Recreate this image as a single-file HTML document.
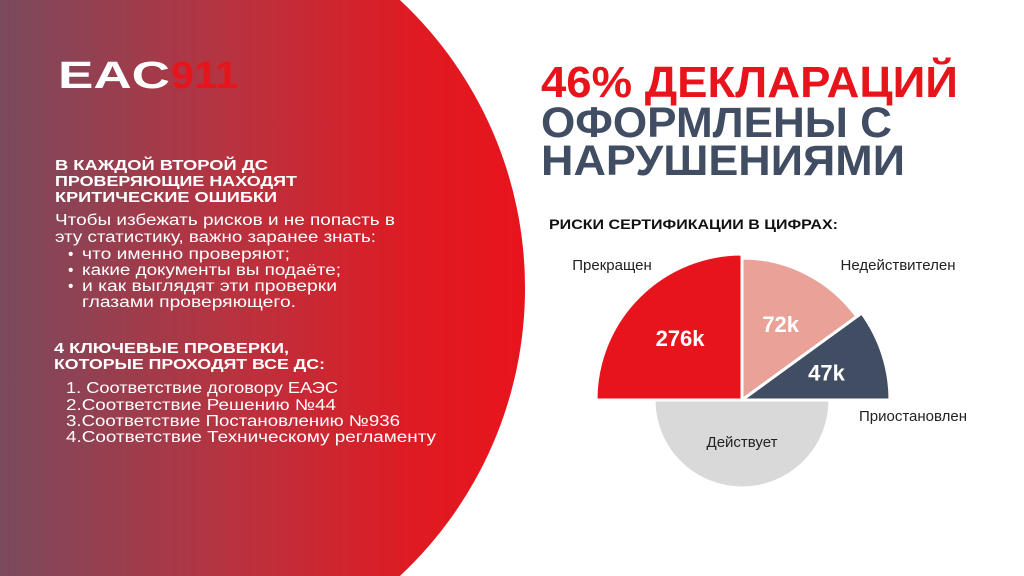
<!DOCTYPE html>
<html><head><meta charset="utf-8"><style>
html,body{margin:0;padding:0;background:#fff;width:1024px;height:576px;overflow:hidden;}
svg{display:block;font-family:"Liberation Sans","DejaVu Sans",sans-serif;overflow:hidden;}
</style></head><body>
<svg id="page" width="1024" height="576" viewBox="0 0 1024 576" xmlns="http://www.w3.org/2000/svg">
<defs>
<linearGradient id="lg" x1="0" y1="0" x2="525" y2="0" gradientUnits="userSpaceOnUse">
<stop offset="0" stop-color="#7a4a5d"/>
<stop offset="0.45" stop-color="#b9323f"/>
<stop offset="0.8" stop-color="#e01a22"/>
<stop offset="1" stop-color="#e8141c"/>
</linearGradient>
</defs>
<rect width="1024" height="576" fill="#ffffff"/>
<path d="M0,0 L399.9,0 A394,394 0 0 1 399.9,576 L0,576 Z" fill="url(#lg)"/>

<g>
<text x="58" y="88" font-size="38" font-weight="bold" fill="#ffffff" textLength="112" lengthAdjust="spacingAndGlyphs">EAC</text>
<text x="171" y="88" font-size="38" font-weight="bold" fill="#e8141c" textLength="67" lengthAdjust="spacingAndGlyphs">911</text>
</g>

<g fill="#ffffff">
<g font-size="15" font-weight="bold">
<text x="55" y="170" textLength="213" lengthAdjust="spacingAndGlyphs">В КАЖДОЙ ВТОРОЙ ДС</text>
<text x="55" y="186" textLength="242" lengthAdjust="spacingAndGlyphs">ПРОВЕРЯЮЩИЕ НАХОДЯТ</text>
<text x="55" y="202" textLength="222" lengthAdjust="spacingAndGlyphs">КРИТИЧЕСКИЕ ОШИБКИ</text>
</g>
<g font-size="15.5">
<text x="55" y="225" textLength="340" lengthAdjust="spacingAndGlyphs">Чтобы избежать рисков и не попасть в</text>
<text x="55" y="242" textLength="321" lengthAdjust="spacingAndGlyphs">эту статистику, важно заранее знать:</text>
<text x="68" y="259">•</text><text x="82" y="259" textLength="208" lengthAdjust="spacingAndGlyphs">что именно проверяют;</text>
<text x="68" y="275">•</text><text x="82" y="275" textLength="259" lengthAdjust="spacingAndGlyphs">какие документы вы подаёте;</text>
<text x="68" y="291">•</text><text x="82" y="291" textLength="255" lengthAdjust="spacingAndGlyphs">и как выглядят эти проверки</text>
<text x="82" y="307" textLength="214" lengthAdjust="spacingAndGlyphs">глазами проверяющего.</text>
</g>
<g font-size="15" font-weight="bold">
<text x="54" y="353" textLength="235" lengthAdjust="spacingAndGlyphs">4 КЛЮЧЕВЫЕ ПРОВЕРКИ,</text>
<text x="54" y="369" textLength="271" lengthAdjust="spacingAndGlyphs">КОТОРЫЕ ПРОХОДЯТ ВСЕ ДС:</text>
</g>
<g font-size="15.5">
<text x="66" y="393" textLength="272" lengthAdjust="spacingAndGlyphs">1. Соответствие договору ЕАЭС</text>
<text x="66" y="410" textLength="270" lengthAdjust="spacingAndGlyphs">2.Соответствие Решению №44</text>
<text x="66" y="426" textLength="334" lengthAdjust="spacingAndGlyphs">3.Соответствие Постановлению №936</text>
<text x="66" y="442" textLength="370" lengthAdjust="spacingAndGlyphs">4.Соответствие Техническому регламенту</text>
</g>
</g>

<g font-weight="bold">
<text x="541" y="97" font-size="44" fill="#e8141c" textLength="417" lengthAdjust="spacingAndGlyphs">46% ДЕКЛАРАЦИЙ</text>
<text x="541" y="137" font-size="43" fill="#414d62" textLength="351" lengthAdjust="spacingAndGlyphs">ОФОРМЛЕНЫ С</text>
<text x="541" y="175" font-size="43" fill="#414d62" textLength="364" lengthAdjust="spacingAndGlyphs">НАРУШЕНИЯМИ</text>
</g>
<text x="549" y="229" font-size="14" font-weight="bold" fill="#111" textLength="289" lengthAdjust="spacingAndGlyphs">РИСКИ СЕРТИФИКАЦИИ В ЦИФРАХ:</text>

<g id="chart"></g>
</svg>
<script>
const categories = ['Действует', 'Прекращен', 'Недействителен', 'Приостановлен'];
const sweepShares = [180, 90, 54, 36];
const radiusValues = [88, 146, 142, 148];
const valueLabels = ['', '276k', '72k', '47k'];
const colors = ['#d9d9d9', '#e8141c', '#eaa197', '#414d62'];

const NS = 'http://www.w3.org/2000/svg';
const cx = 742, cy = 400, maxR = 148, rScale = v => v / 148 * maxR;
const total = sweepShares.reduce((a, b) => a + b, 0);
const g = document.getElementById('chart');
let start = 0;
const catLabelPos = [
  {x: 742, y: 447, a: 'middle'},
  {x: 612, y: 270, a: 'middle'},
  {x: 898, y: 270, a: 'middle'},
  {x: 913, y: 421, a: 'middle'}
];
const pt = (a, r) => [cx + r * Math.cos(a * Math.PI / 180), cy + r * Math.sin(a * Math.PI / 180)];
for (let i = 0; i < categories.length; i++) {
  const sweep = sweepShares[i] / total * 360;
  const a0 = start, a1 = start + sweep;
  const r = rScale(radiusValues[i]);
  const p0 = pt(a0, r), p1 = pt(a1, r);
  const path = document.createElementNS(NS, 'path');
  path.setAttribute('d', `M${cx},${cy} L${p0[0]},${p0[1]} A${r},${r} 0 ${sweep > 180 ? 1 : 0} 1 ${p1[0]},${p1[1]} Z`);
  path.setAttribute('fill', colors[i]);
  path.setAttribute('stroke', '#ffffff');
  path.setAttribute('stroke-width', '3');
  path.setAttribute('stroke-linejoin', 'round');
  
  
  if (i === 0) g.insertBefore(path, g.firstChild); else g.appendChild(path);
  if (valueLabels[i]) {
    const mid = (a0 + a1) / 2;
    const lp = pt(mid, r * 0.6);
    const t = document.createElementNS(NS, 'text');
    t.setAttribute('x', lp[0]);
    t.setAttribute('y', lp[1] + 8);
    t.setAttribute('text-anchor', 'middle');
    t.setAttribute('font-size', '22');
    t.setAttribute('font-weight', 'bold');
    t.setAttribute('fill', '#ffffff');
    t.textContent = valueLabels[i];
    
    
    g.appendChild(t);
  }
  const c = document.createElementNS(NS, 'text');
  c.setAttribute('x', catLabelPos[i].x);
  c.setAttribute('y', catLabelPos[i].y);
  c.setAttribute('text-anchor', catLabelPos[i].a);
  c.setAttribute('font-size', '15');
  c.setAttribute('fill', '#222');
  c.textContent = categories[i];
  
  
  g.appendChild(c);
  start = a1;
}
</script>
</body></html>
